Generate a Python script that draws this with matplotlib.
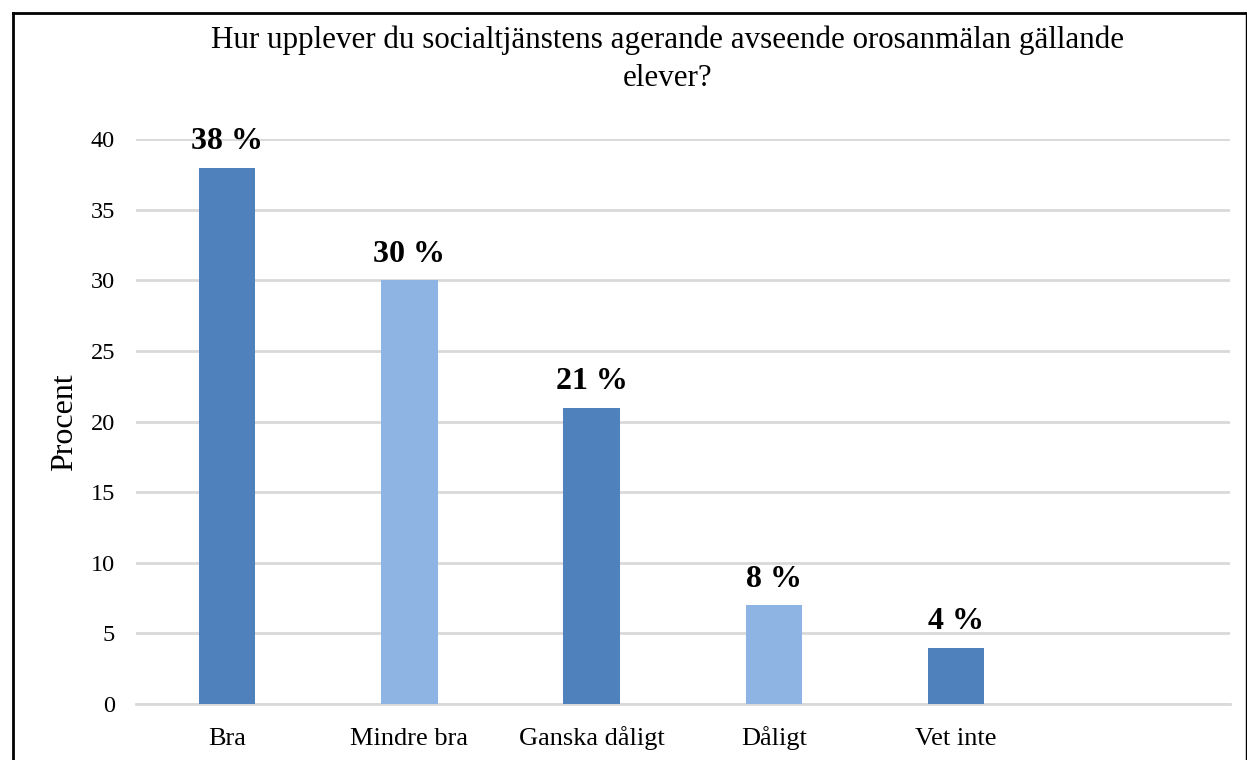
import matplotlib
matplotlib.use("Agg")
import matplotlib.pyplot as plt
from matplotlib.lines import Line2D

#-------data-------
categories = ["Bra", "Mindre bra", "Ganska dåligt", "Dåligt", "Vet inte", ""]
values = [38, 30, 21, 7, 4, 0]
labels = ["38 %", "30 %", "21 %", "8 %", "4 %", ""]
title = "Hur upplever du socialtjänstens agerande avseende orosanmälan gällande\nelever?"

dark = "#4F81BD"
light = "#8EB4E3"
colors = [dark, light, dark, light, dark, dark]

plt.rcParams['font.family'] = ['Liberation Serif', 'DejaVu Serif']

#-------graph-------
fig = plt.figure(figsize=(12.47, 7.6), dpi=100)
ax = fig.add_axes([0.109, 0.0737, 0.877, 0.743])

x = list(range(len(categories)))
bars = ax.bar(x, values, width=0.31, color=colors, zorder=3)
for xi, v, lab in zip(x, values, labels):
    if lab:
        ax.annotate(lab, (xi, v), xytext=(0, 13), textcoords="offset points",
                    ha="center", va="baseline", fontsize=23, fontweight="bold")

ax.set_xlim(-0.5, len(categories) - 0.5)
ax.set_ylim(0, 40)
ax.set_yticks(range(0, 41, 5))
ax.set_xticks(x)
ax.set_xticklabels(categories, fontsize=19, va="baseline")
ax.tick_params(axis="y", labelsize=17.5, length=0, pad=15)
ax.tick_params(axis="x", length=0, pad=29.5)
ax.set_ylabel("Procent", fontsize=23, labelpad=8)
for s in ax.spines.values():
    s.set_visible(False)
ax.grid(axis="y", color="#D9D9D9", linewidth=2, zorder=0)
ax.axhline(0, color="#D9D9D9", linewidth=2, zorder=1, clip_on=False)

fig.text(0.535, 0.967, title, ha="center", va="top", fontsize=22.3, linespacing=1.45)

# outer frame
W, H = 1247, 760
fig.add_artist(Line2D([13 / W, 13 / W], [0, 1 - 13 / H], color="black", lw=2,
                      transform=fig.transFigure))
fig.add_artist(Line2D([13 / W, 1], [1 - 13 / H, 1 - 13 / H], color="black", lw=2,
                      transform=fig.transFigure))
fig.add_artist(Line2D([1 - 1 / W, 1 - 1 / W], [0, 1 - 13 / H], color="black", lw=1,
                      transform=fig.transFigure))

fig.savefig("out.png", dpi=100)
